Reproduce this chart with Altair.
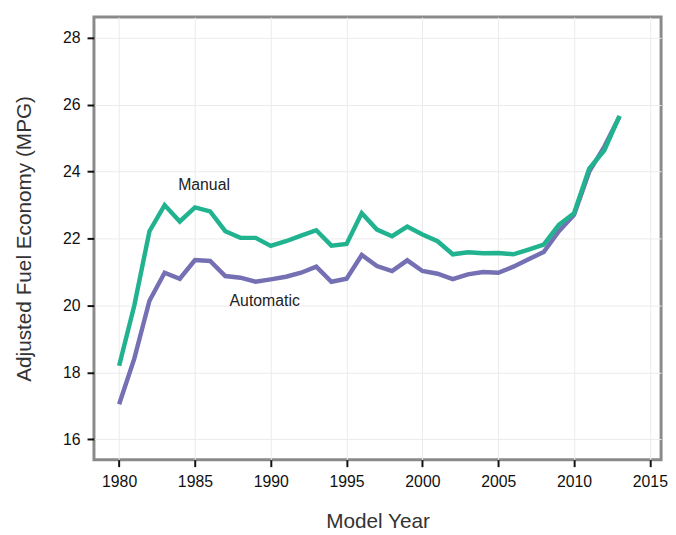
import altair as alt
import pandas as pd

years = list(range(1980, 2014))
manual = [18.20, 20.00, 22.22, 23.00, 22.51, 22.93, 22.81, 22.22, 22.02, 22.02,
          21.78, 21.92, 22.09, 22.25, 21.79, 21.84, 22.76, 22.27, 22.07, 22.36,
          22.12, 21.92, 21.53, 21.59, 21.56, 21.57, 21.53, 21.67, 21.82, 22.41,
          22.76, 24.09, 24.64, 25.67]
automatic = [17.05, 18.41, 20.14, 20.98, 20.80, 21.36, 21.33, 20.88, 20.83, 20.71,
             20.78, 20.86, 20.98, 21.16, 20.71, 20.80, 21.51, 21.18, 21.03, 21.35,
             21.03, 20.95, 20.79, 20.93, 21.00, 20.98, 21.16, 21.38, 21.60, 22.22,
             22.71, 24.00, 24.75, 25.65]
label_text = ["Manual", "Automatic"]
label_x = [1985.6, 1989.6]
label_y = [23.6, 20.13]
x_ticks = [1980, 1985, 1990, 1995, 2000, 2005, 2010, 2015]
y_ticks = [16, 18, 20, 22, 24, 26, 28]

GREEN = "#21b38f"
PURPLE = "#7570b3"
FONT = "Liberation Sans"

df_auto = pd.DataFrame({"year": years, "mpg": automatic})
df_man = pd.DataFrame({"year": years, "mpg": manual})
df_lab = pd.DataFrame({"year": label_x, "mpg": label_y, "text": label_text})

xs = alt.Scale(domain=[1978.34, 2015.74], nice=False, zero=False)
ys = alt.Scale(domain=[15.39, 28.62], nice=False, zero=False)

x_axis = alt.Axis(values=x_ticks, format="d", title="Model Year",
                  titleY=69, titleBaseline="alphabetic", labelPadding=7)
y_axis = alt.Axis(values=y_ticks, format="d", title="Adjusted Fuel Economy (MPG)",
                  titleX=-70, titleY=224, titleAngle=270, titleBaseline="middle",
                  titleAlign="center", labelPadding=7)

auto_line = alt.Chart(df_auto).mark_line(color=PURPLE, strokeWidth=4.5).encode(
    x=alt.X("year:Q", scale=xs, axis=x_axis),
    y=alt.Y("mpg:Q", scale=ys, axis=y_axis),
)
man_line = alt.Chart(df_man).mark_line(color=GREEN, strokeWidth=4.5).encode(
    x=alt.X("year:Q", scale=xs),
    y=alt.Y("mpg:Q", scale=ys),
)
labels = alt.Chart(df_lab).mark_text(font=FONT, fontSize=16, color="#222",
                                     align="center", baseline="middle").encode(
    x=alt.X("year:Q", scale=xs),
    y=alt.Y("mpg:Q", scale=ys),
    text="text:N",
)

chart = alt.layer(auto_line, man_line, labels).properties(
    width=574, height=448,
    autosize=alt.AutoSizeParams(type="none"),
    padding={"left": 87, "top": 6, "right": 7, "bottom": 73},
).configure_view(
    stroke="#8a8a8a", strokeWidth=3
).configure_axis(
    domain=False, tickColor="#111", tickWidth=2, tickSize=7,
    labelFont=FONT, labelFontSize=16, labelColor="#111",
    titleFont=FONT, titleFontSize=21, titleFontWeight="normal", titleColor="#333",
    gridColor="#ebebeb", gridWidth=1,
)

chart.save("out.html", embed_options={"renderer": "svg", "actions": False})
